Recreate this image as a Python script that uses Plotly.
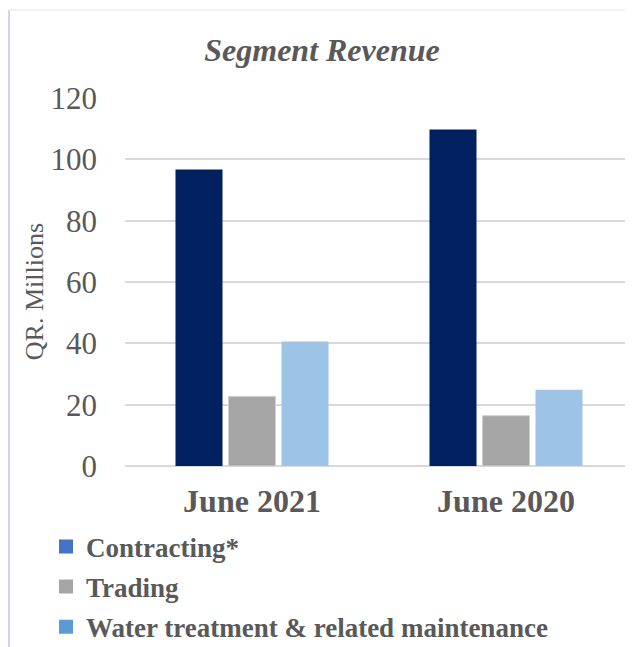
import plotly.graph_objects as go

categories = ["June 2021", "June 2020"]
series_names = ["Contracting*", "Trading", "Water treatment & related maintenance"]
contracting = [96.7, 109.7]
trading = [22.7, 16.4]
water = [40.6, 24.9]
bar_colors = ["#002060", "#A5A5A5", "#9DC3E6"]
legend_colors = ["#4472C4", "#A5A5A5", "#5B9BD5"]
y_ticks = [0, 20, 40, 60, 80, 100, 120]

W, H = 633, 647
OFF = 8  # page body margin
ML, MT = 117, 90
PW, PH = 508, 367.6
MR = W - ML - PW
MB = H - MT - PH


def sx(p):
    return (p - OFF - ML) / PW


def sy(p):
    return (MT + PH - (p - OFF)) / PH


font_family = "Liberation Serif, Times New Roman, serif"
txt = "#595959"

fig = go.Figure()
for name, vals, col in zip(series_names, [contracting, trading, water], bar_colors):
    grey = col == "#A5A5A5"
    fig.add_trace(go.Bar(
        x=categories, y=vals, name=name, marker_color=col, showlegend=False,
        marker_line_color="#D0D0D0" if grey else col,
        marker_line_width=1 if grey else 0,
    ))
for i, (name, col) in enumerate(zip(series_names, legend_colors)):
    fig.add_trace(go.Scatter(
        x=[None], y=[None], mode="markers", name=name, legendgroup=f"g{i}",
        marker=dict(symbol="square", size=14, color=col),
    ))

fig.update_layout(
    width=W, height=H,
    margin=dict(l=ML, r=MR, t=MT, b=MB, autoexpand=False),
    paper_bgcolor="white", plot_bgcolor="white",
    barmode="group", bargap=0.374, bargroupgap=0.113,
    font=dict(family=font_family, color=txt),
    title=dict(text="<b><i>Segment Revenue</i></b>", x=sx(322), xanchor="center",
               xref="paper", y=1 - (50 - OFF) / H, yanchor="middle",
               font=dict(size=32, color=txt, family=font_family)),
    xaxis=dict(showgrid=False, showline=False, zeroline=False, ticks="",
               tickfont=dict(size=32, color=txt, family=font_family, weight="bold"),
               ticklabelstandoff=13),
    yaxis=dict(range=[0, 120], tickvals=y_ticks, showgrid=True,
               gridcolor="#D9D9D9", gridwidth=1.5, zeroline=True,
               zerolinecolor="#D9D9D9", zerolinewidth=1.5, showline=False,
               tickfont=dict(size=31, color=txt, family=font_family),
               ticklabelstandoff=27),
    legend=dict(orientation="v", x=sx(46), xanchor="left", y=sy(522), yanchor="top",
                font=dict(size=27, color=txt, family=font_family, weight="bold"),
                tracegroupgap=2, bgcolor="rgba(0,0,0,0)", itemclick=False),
    annotations=[dict(text="QR. Millions", textangle=-90, xref="paper", yref="paper",
                      x=sx(34), y=sy(292), xanchor="center", yanchor="middle",
                      showarrow=False, font=dict(size=26, color=txt, family=font_family))],
    shapes=[
        dict(type="line", xref="paper", yref="paper", x0=sx(9), x1=sx(9),
             y0=sy(10), y1=sy(670), line=dict(color="#C9D6EE", width=2)),
        dict(type="line", xref="paper", yref="paper", x0=sx(9), x1=sx(660),
             y0=sy(10), y1=sy(10), line=dict(color="#EEF1F8", width=2)),
    ],
)

fig.write_html("out.html")
